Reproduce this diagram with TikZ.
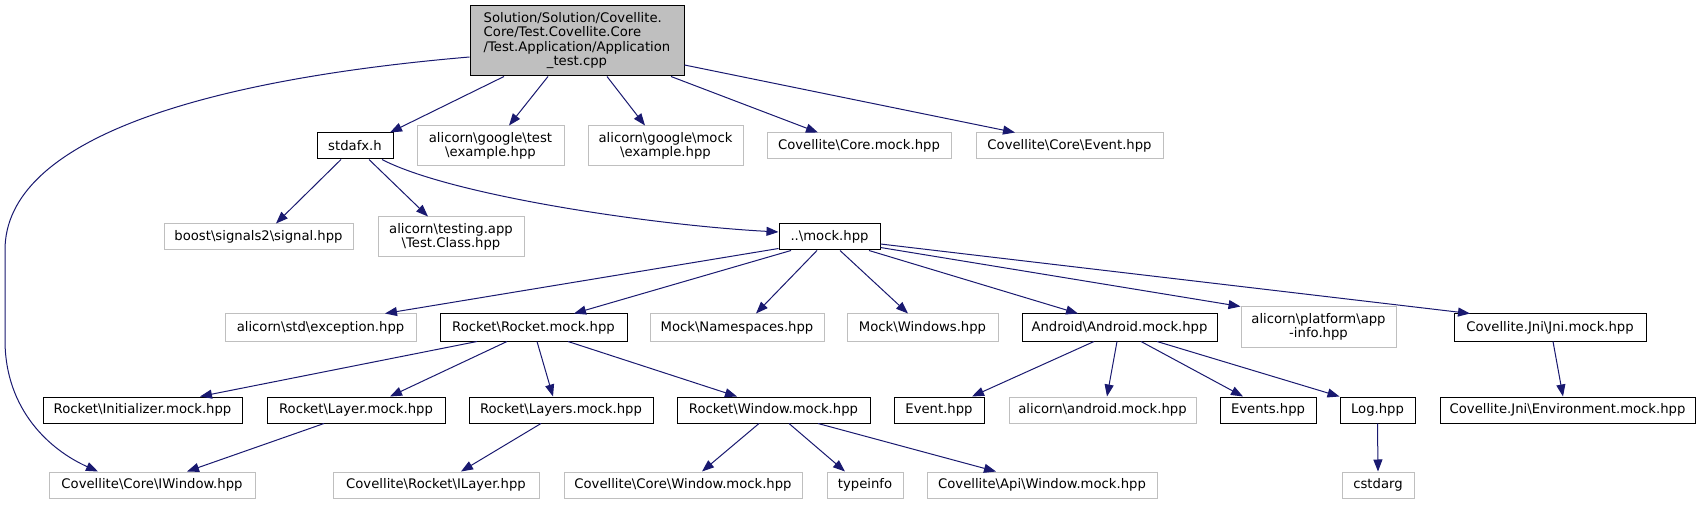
\documentclass[tikz,border=0pt]{standalone}
\usepackage{fontspec}
\setmainfont{DejaVu Sans}
\usetikzlibrary{arrows.meta}
\definecolor{edgecol}{HTML}{191970}
\definecolor{greyline}{HTML}{BFBFBF}
\tikzset{
  box/.style={draw=black, line width=1pt, inner sep=0pt, align=center, font=\fontsize{13.2}{14.3}\selectfont},
  gbox/.style={draw=greyline, line width=1pt, inner sep=0pt, align=center, font=\fontsize{13.2}{14.3}\selectfont},
  rootbox/.style={box, fill=greyline},
  dep/.style={draw=edgecol, line width=1pt, -{Triangle[length=12pt,width=9pt]}},
}
\begin{document}
\begin{tikzpicture}[x=1pt,y=1pt]
\useasboundingbox[fill=white] (0,0) rectangle (1698,504);
% row 0
\node[rootbox, minimum width=214pt, minimum height=70pt] (root) at (577,463)
 {\begin{tabular}{@{}l@{}}Solution/Solution/Covellite.\\Core/Test.Covellite.Core\\/Test.Application/Application\\\multicolumn{1}{@{}c@{}}{\_test.cpp}\end{tabular}};
% row 1
\node[box, minimum width=76pt, minimum height=26pt] (stdafx) at (355,358) {stdafx.h};
\node[gbox, minimum width=147pt, minimum height=40pt] (gtest) at (490.5,358) {alicorn\textbackslash google\textbackslash test\\\textbackslash example.hpp};
\node[gbox, minimum width=155pt, minimum height=40pt] (gmock) at (665.5,358) {alicorn\textbackslash google\textbackslash mock\\\textbackslash example.hpp};
\node[gbox, minimum width=184pt, minimum height=26pt] (coremock) at (859,358) {Covellite\textbackslash Core.mock.hpp};
\node[gbox, minimum width=187pt, minimum height=26pt] (event) at (1069.5,358) {Covellite\textbackslash Core\textbackslash Event.hpp};
% row 2
\node[gbox, minimum width=189pt, minimum height=26pt] (boost) at (258.5,267) {boost\textbackslash signals2\textbackslash signal.hpp};
\node[gbox, minimum width=146pt, minimum height=40pt] (testing) at (451,267) {alicorn\textbackslash testing.app\\\textbackslash Test.Class.hpp};
\node[box, minimum width=101pt, minimum height=26pt] (mock) at (829.5,267) {..\textbackslash mock.hpp};
% row 3
\node[gbox, minimum width=191pt, minimum height=27pt] (exception) at (320.5,176.5) {alicorn\textbackslash std\textbackslash exception.hpp};
\node[box, minimum width=187pt, minimum height=27pt] (rocketmock) at (533.5,176.5) {Rocket\textbackslash Rocket.mock.hpp};
\node[gbox, minimum width=174pt, minimum height=27pt] (namespaces) at (737,176.5) {Mock\textbackslash Namespaces.hpp};
\node[gbox, minimum width=151pt, minimum height=27pt] (windows) at (922.5,176.5) {Mock\textbackslash Windows.hpp};
\node[box, minimum width=195pt, minimum height=27pt] (android) at (1119.5,176.5) {Android\textbackslash Android.mock.hpp};
\node[gbox, minimum width=155pt, minimum height=40pt] (appinfo) at (1318.5,177) {alicorn\textbackslash platform\textbackslash app\\-info.hpp};
\node[box, minimum width=192pt, minimum height=27pt] (jni) at (1550,176.5) {Covellite.Jni\textbackslash Jni.mock.hpp};
% row 4
\node[box, minimum width=199pt, minimum height=26pt] (initializer) at (142.5,94) {Rocket\textbackslash Initializer.mock.hpp};
\node[box, minimum width=178pt, minimum height=26pt] (layer) at (356,94) {Rocket\textbackslash Layer.mock.hpp};
\node[box, minimum width=184pt, minimum height=26pt] (layers) at (561,94) {Rocket\textbackslash Layers.mock.hpp};
\node[box, minimum width=193pt, minimum height=26pt] (window) at (773.5,94) {Rocket\textbackslash Window.mock.hpp};
\node[box, minimum width=90pt, minimum height=26pt] (event2) at (939,94) {Event.hpp};
\node[gbox, minimum width=187pt, minimum height=26pt] (amock) at (1102.5,94) {alicorn\textbackslash android.mock.hpp};
\node[box, minimum width=96pt, minimum height=26pt] (events) at (1268,94) {Events.hpp};
\node[box, minimum width=75pt, minimum height=26pt] (log) at (1377.5,94) {Log.hpp};
\node[box, minimum width=255pt, minimum height=26pt] (env) at (1567.5,94) {Covellite.Jni\textbackslash Environment.mock.hpp};
% row 5
\node[gbox, minimum width=206pt, minimum height=26pt] (iwindow) at (152,19) {Covellite\textbackslash Core\textbackslash IWindow.hpp};
\node[gbox, minimum width=206pt, minimum height=26pt] (ilayer) at (436,19) {Covellite\textbackslash Rocket\textbackslash ILayer.hpp};
\node[gbox, minimum width=238pt, minimum height=26pt] (corewin) at (683,19) {Covellite\textbackslash Core\textbackslash Window.mock.hpp};
\node[gbox, minimum width=76pt, minimum height=26pt] (typeinfo) at (865,19) {typeinfo};
\node[gbox, minimum width=230pt, minimum height=26pt] (apiwin) at (1042,19) {Covellite\textbackslash Api\textbackslash Window.mock.hpp};
\node[gbox, minimum width=72pt, minimum height=26pt] (cstdarg) at (1378,19) {cstdarg};
% edges from root
\draw[dep] ([xshift=-73pt]root.south) -- ([xshift=35pt]stdafx.north);
\draw[dep] ([xshift=-29pt]root.south) -- ([xshift=18.5pt]gtest.north);
\draw[dep] ([xshift=30pt]root.south) -- ([xshift=-20.5pt]gmock.north);
\draw[dep] ([xshift=94pt]root.south) -- ([xshift=-41pt]coremock.north);
\draw[dep] ([yshift=-24pt]root.east) -- ([xshift=-54.5pt]event.north);
\draw[dep] ([yshift=-16pt]root.west) .. controls (200,424) and (5,364) .. (5,254)
  -- (5,164) .. controls (5,94) and (50,54) .. ([xshift=-54pt]iwindow.north);
% edges from stdafx
\draw[dep] ([xshift=-14pt]stdafx.south) -- ([xshift=17.5pt]boost.north);
\draw[dep] ([xshift=14pt]stdafx.south) -- ([xshift=-23pt]testing.north);
\draw[dep] ([xshift=27pt]stdafx.south) .. controls (450,309) and (650,279) .. ([yshift=5pt]mock.west);
% edges from mock
\draw[dep] ([yshift=2pt]mock.south west) -- ([xshift=64.5pt]exception.north);
\draw[dep] ([xshift=-38.5pt]mock.south) -- ([xshift=40.5pt]rocketmock.north);
\draw[dep] ([xshift=-12.5pt]mock.south) -- ([xshift=19pt]namespaces.north);
\draw[dep] ([xshift=10.5pt]mock.south) -- ([xshift=-14.5pt]windows.north);
\draw[dep] ([xshift=39.5pt]mock.south) -- ([xshift=-41.5pt]android.north);
\draw[dep] ([yshift=3pt]mock.south east) -- (appinfo.north west);
\draw[dep] ([yshift=-7pt]mock.east) -- ([xshift=-80pt]jni.north);
% edges from rocketmock
\draw[dep] ([xshift=-56.5pt]rocketmock.south) -- ([xshift=57.5pt]initializer.north);
\draw[dep] ([xshift=-26.5pt]rocketmock.south) -- ([xshift=34pt]layer.north);
\draw[dep] ([xshift=3.5pt]rocketmock.south) -- ([xshift=-8pt]layers.north);
\draw[dep] ([xshift=34.5pt]rocketmock.south) -- ([xshift=-36.5pt]window.north);
% row 4 -> row 5
\draw[dep] ([xshift=-32pt]layer.south) -- ([xshift=35pt]iwindow.north);
\draw[dep] ([xshift=-20pt]layers.south) -- ([xshift=25pt]ilayer.north);
\draw[dep] ([xshift=-14.5pt]window.south) -- ([xshift=19pt]corewin.north);
\draw[dep] ([xshift=15.5pt]window.south) -- ([xshift=-20pt]typeinfo.north);
\draw[dep] ([xshift=44.5pt]window.south) -- ([xshift=-46pt]apiwin.north);
% edges from android
\draw[dep] ([xshift=-25.5pt]android.south) -- ([xshift=33pt]event2.north);
\draw[dep] ([xshift=-2.5pt]android.south) -- ([xshift=4.5pt]amock.north);
\draw[dep] ([xshift=21.5pt]android.south) -- ([xshift=-25pt]events.north);
\draw[dep] ([xshift=37.5pt]android.south) -- (log.north west);
\draw[dep] (log.south) -- (cstdarg.north);
\draw[dep] ([xshift=3pt]jni.south) -- ([xshift=-4.5pt]env.north);
\end{tikzpicture}
\end{document}
